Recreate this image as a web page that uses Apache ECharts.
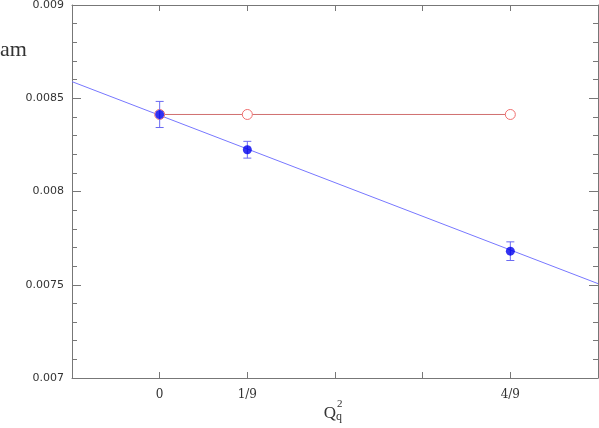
<!DOCTYPE html>
<html>
<head>
<meta charset="utf-8">
<script src="https://cdn.jsdelivr.net/npm/echarts@6/dist/echarts.min.js"></script>
<style>html,body{margin:0;padding:0;background:#fff;}#c{width:599px;height:428px;}</style>
</head>
<body>
<div id="c"></div>
<script>
// x values in units of 1/9 (Q_q^2 * 9)
var qValues = [0, 1, 4];
var amValues = [0.008413, 0.008224, 0.007680];
var amErrors = [0.00007, 0.000045, 0.00005];
var quenchedValues = [0.008413, 0.008413, 0.008413];
var fitX = [-1, 5];
var fitY = [0.008589, 0.007506];
var xTickLabels = {0: '0', 1: '1/9', 4: '4/9'};
var yTickLabels = {'0.007': '0.007', '0.0075': '0.0075', '0.008': '0.008', '0.0085': '0.0085', '0.009': '0.009'};

var axisColor = '#777';
var chart = echarts.init(document.getElementById('c'));

var errData = qValues.map(function (q, i) { return [q, amValues[i] - amErrors[i], amValues[i] + amErrors[i]]; });

var serif = '"Liberation Serif"';
chart.setOption({
  animation: false,
  grid: {left: 72, right: 1, top: 5, bottom: 50, outerBoundsMode: 'none', containLabel: false},
  graphic: [{
    type: 'text', x: 0, y: 50,
    style: {text: 'am', font: '22px ' + serif, fill: '#333', textAlign: 'left', textVerticalAlign: 'middle'}
  }, {
    type: 'text', x: 330, y: 414,
    style: {text: 'Q', font: '17px ' + serif, fill: '#333', textAlign: 'center', textVerticalAlign: 'middle'}
  }, {
    type: 'text', x: 337, y: 404,
    style: {text: '2', font: '11px ' + serif, fill: '#333', textAlign: 'left', textVerticalAlign: 'middle'}
  }, {
    type: 'text', x: 336, y: 417,
    style: {text: 'q', font: '12px ' + serif, fill: '#333', textAlign: 'left', textVerticalAlign: 'middle'}
  }],
  xAxis: [{
    type: 'value', min: -1, max: 5, interval: 1,
    axisLine: {onZero: false, lineStyle: {color: axisColor}},
    axisTick: {inside: true, length: 6, lineStyle: {color: axisColor}},
    splitLine: {show: false},
    axisLabel: {
      margin: 11, color: '#333', fontFamily: 'DejaVu Serif', fontSize: 12,
      formatter: function (v) { var k = Math.round(v); return xTickLabels[k] !== undefined ? xTickLabels[k] : ''; }
    }
  }, {
    type: 'value', position: 'top', min: -1, max: 5, interval: 1,
    axisLine: {show: true, onZero: false, lineStyle: {color: axisColor}},
    axisTick: {show: true, inside: true, length: 6, lineStyle: {color: axisColor}},
    axisLabel: {show: false}, splitLine: {show: false}
  }],
  yAxis: [{
    type: 'value', min: 0.007, max: 0.009, interval: 0.0005,
    axisLine: {show: true, onZero: false, lineStyle: {color: axisColor}},
    axisTick: {inside: true, length: 9, lineStyle: {color: axisColor}},
    minorTick: {show: true, splitNumber: 5, length: 5, lineStyle: {color: axisColor}},
    splitLine: {show: false},
    axisLabel: {
      margin: 8, color: '#333', fontFamily: 'DejaVu Sans', fontSize: 11,
      formatter: function (v) { var key = String(+v.toFixed(5)); return yTickLabels[key] || ''; }
    }
  }, {
    type: 'value', position: 'right', min: 0.007, max: 0.009, interval: 0.0005,
    axisLine: {show: true, onZero: false, lineStyle: {color: axisColor}},
    axisTick: {show: true, inside: true, length: 9, lineStyle: {color: axisColor}},
    minorTick: {show: true, splitNumber: 5, length: 5, lineStyle: {color: axisColor}},
    axisLabel: {show: false}, splitLine: {show: false}
  }],
  series: [{
    type: 'line',
    data: fitX.map(function (x, i) { return [x, fitY[i]]; }),
    symbol: 'none',
    lineStyle: {color: '#7777ff', width: 1},
    z: 1
  }, {
    type: 'line',
    data: qValues.map(function (q, i) { return [q, quenchedValues[i]]; }),
    symbol: 'circle', symbolSize: 10,
    itemStyle: {color: '#fff', borderColor: '#f07070', borderWidth: 1},
    lineStyle: {color: '#d07070', width: 1},
    z: 2
  }, {
    type: 'custom',
    data: errData,
    renderItem: function (params, api) {
      var x = api.value(0);
      var lo = api.coord([x, api.value(1)]);
      var hi = api.coord([x, api.value(2)]);
      var w = 4;
      var st = {stroke: '#6a6af2', lineWidth: 1};
      return {type: 'group', children: [
        {type: 'line', shape: {x1: lo[0], y1: lo[1], x2: hi[0], y2: hi[1]}, style: st},
        {type: 'line', shape: {x1: lo[0] - w, y1: lo[1], x2: lo[0] + w, y2: lo[1]}, style: st},
        {type: 'line', shape: {x1: hi[0] - w, y1: hi[1], x2: hi[0] + w, y2: hi[1]}, style: st}
      ]};
    },
    z: 3
  }, {
    type: 'scatter',
    data: qValues.map(function (q, i) { return [q, amValues[i]]; }),
    symbol: 'circle', symbolSize: 9,
    itemStyle: {color: '#0000ee'},
    z: 4
  }]
});
</script>
</body>
</html>
